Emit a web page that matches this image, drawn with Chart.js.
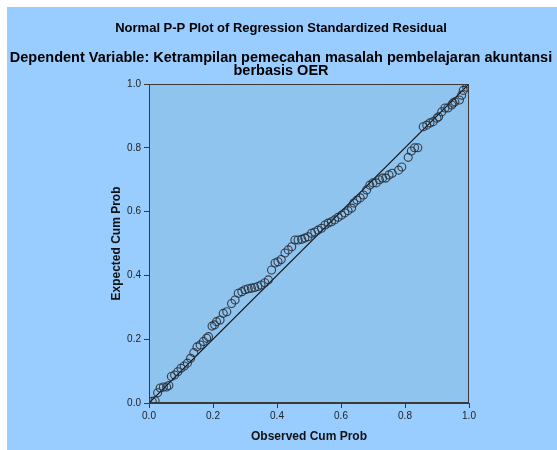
<!DOCTYPE html>
<html>
<head>
<meta charset="utf-8">
<script src="https://cdn.jsdelivr.net/npm/chart.js@4.4.0/dist/chart.umd.min.js"></script>
<style>
  html, body { margin: 0; padding: 0; background: #ffffff; }
  canvas { display: block; }
</style>
</head>
<body>
<canvas id="c" width="557" height="450"></canvas>
<script>
const titleLine = "Normal P-P Plot of Regression Standardized Residual";
const subtitleLines = ["Dependent Variable: Ketrampilan pemecahan masalah pembelajaran akuntansi", "berbasis OER"];
const xAxisTitle = "Observed Cum Prob";
const yAxisTitle = "Expected Cum Prob";
const tickValues = [0, 0.2, 0.4, 0.6, 0.8, 1.0];

const observedCum = [0.010, 0.019, 0.027, 0.035, 0.045, 0.055, 0.062, 0.070, 0.080, 0.090,
  0.100, 0.110, 0.120, 0.130, 0.140, 0.150, 0.160, 0.170, 0.180, 0.186,
  0.197, 0.205, 0.211, 0.222, 0.232, 0.243, 0.258, 0.269, 0.279, 0.290,
  0.300, 0.310, 0.320, 0.330, 0.340, 0.350, 0.362, 0.373, 0.383, 0.394,
  0.403, 0.413, 0.425, 0.435, 0.446, 0.456, 0.466, 0.477, 0.487, 0.497,
  0.508, 0.518, 0.528, 0.539, 0.550, 0.560, 0.570, 0.580, 0.591, 0.602,
  0.612, 0.622, 0.633, 0.640, 0.650, 0.660, 0.670, 0.680, 0.690, 0.700,
  0.710, 0.720, 0.730, 0.740, 0.750, 0.760, 0.780, 0.790, 0.810, 0.820,
  0.830, 0.840, 0.857, 0.868, 0.878, 0.888, 0.900, 0.905, 0.915, 0.925,
  0.934, 0.946, 0.950, 0.956, 0.970, 0.977, 0.982, 0.993, 1.000];
const expectedCum = [0.005, 0.007, 0.032, 0.047, 0.050, 0.050, 0.055, 0.083, 0.088, 0.098,
  0.109, 0.116, 0.125, 0.140, 0.158, 0.176, 0.182, 0.193, 0.203, 0.208,
  0.241, 0.245, 0.255, 0.260, 0.281, 0.286, 0.312, 0.323, 0.344, 0.349,
  0.355, 0.358, 0.360, 0.362, 0.365, 0.370, 0.377, 0.386, 0.417, 0.439,
  0.443, 0.450, 0.470, 0.480, 0.490, 0.511, 0.511, 0.513, 0.517, 0.521,
  0.532, 0.536, 0.542, 0.548, 0.558, 0.564, 0.568, 0.574, 0.582, 0.589,
  0.596, 0.603, 0.611, 0.627, 0.636, 0.643, 0.652, 0.668, 0.683, 0.690,
  0.690, 0.700, 0.705, 0.705, 0.715, 0.720, 0.730, 0.740, 0.770, 0.790,
  0.800, 0.800, 0.866, 0.871, 0.878, 0.882, 0.893, 0.897, 0.913, 0.925,
  0.925, 0.934, 0.940, 0.944, 0.950, 0.965, 0.980, 0.990, 1.000];
const refLineX = [0, 1];
const refLineY = [0, 1];

const pointsData = observedCum.map((x, i) => ({ x: x, y: expectedCum[i] }));
const lineData = refLineX.map((x, i) => ({ x: x, y: refLineY[i] }));

const bgPlugin = {
  id: 'bg',
  beforeDraw(chart) {
    const ctx = chart.ctx;
    const a = chart.chartArea;
    ctx.save();
    ctx.fillStyle = '#ffffff';
    ctx.fillRect(0, 0, chart.width, chart.height);
    ctx.fillStyle = '#99ccff';
    ctx.fillRect(7, 7, chart.width - 7, chart.height - 7);
    ctx.fillStyle = '#8fc4ee';
    ctx.fillRect(a.left, a.top, a.right - a.left, a.bottom - a.top);
    ctx.restore();
  },
  afterDraw(chart) {
    const ctx = chart.ctx;
    const a = chart.chartArea;
    ctx.save();
    ctx.strokeStyle = '#3a3a3a';
    ctx.lineWidth = 1;
    ctx.strokeRect(a.left + 0.5, a.top + 0.5, a.right - a.left - 1, a.bottom - a.top - 1);
    ctx.fillStyle = '#000000';
    ctx.textAlign = 'center';
    ctx.textBaseline = 'middle';
    const cx = 281;
    ctx.font = 'bold 13px "Liberation Sans", Arial, sans-serif';
    ctx.fillText(titleLine, cx, 28);
    ctx.font = 'bold 14.5px "Liberation Sans", Arial, sans-serif';
    ctx.fillText(subtitleLines[0], cx, 58);
    ctx.fillText(subtitleLines[1], cx, 71);
    ctx.restore();
  }
};

new Chart(document.getElementById('c'), {
  type: 'scatter',
  data: {
    datasets: [
      {
        type: 'line',
        data: lineData,
        borderColor: '#111111',
        borderWidth: 1.2,
        pointRadius: 0,
        fill: false,
        order: 2
      },
      {
        data: pointsData,
        pointRadius: 4,
        pointBorderWidth: 1.1,
        pointBorderColor: 'rgba(40,45,55,0.9)',
        pointBackgroundColor: 'rgba(0,0,0,0)',
        order: 1
      }
    ]
  },
  options: {
    responsive: false,
    animation: false,
    devicePixelRatio: 1,
    layout: { padding: { left: 7, right: 88, top: 84, bottom: 0 } },
    plugins: { legend: { display: false }, tooltip: { enabled: false }, title: { display: false } },
    scales: {
      x: {
        type: 'linear', min: 0, max: 1,
        afterBuildTicks(s) { s.ticks = tickValues.map(v => ({ value: v })); },
        afterFit(s) { s.height = 47; },
        ticks: {
          callback: v => Number(v).toFixed(1),
          font: { family: '"Liberation Sans", Arial, sans-serif', size: 10 },
          color: '#222222', padding: 2, maxRotation: 0, autoSkip: false
        },
        grid: { drawOnChartArea: false, drawTicks: true, tickLength: 5, color: '#3a3a3a', lineWidth: 1 },
        border: { display: true, color: '#3a3a3a', width: 1 },
        title: {
          display: true, text: xAxisTitle, color: '#111111',
          font: { family: '"Liberation Sans", Arial, sans-serif', size: 12, weight: 'bold' },
          padding: { top: 0, bottom: 6 }
        }
      },
      y: {
        type: 'linear', min: 0, max: 1,
        afterBuildTicks(s) { s.ticks = tickValues.map(v => ({ value: v })); },
        afterFit(s) { s.width = 142; },
        ticks: {
          callback: v => Number(v).toFixed(1),
          font: { family: '"Liberation Sans", Arial, sans-serif', size: 10 },
          color: '#222222', padding: 3, autoSkip: false
        },
        grid: { drawOnChartArea: false, drawTicks: true, tickLength: 5, color: '#3a3a3a', lineWidth: 1 },
        border: { display: true, color: '#3a3a3a', width: 1 },
        title: {
          display: true, text: yAxisTitle, color: '#111111',
          font: { family: '"Liberation Sans", Arial, sans-serif', size: 12, weight: 'bold' },
          padding: { top: 102, bottom: 0 }
        }
      }
    }
  },
  plugins: [bgPlugin]
});
</script>
</body>
</html>
